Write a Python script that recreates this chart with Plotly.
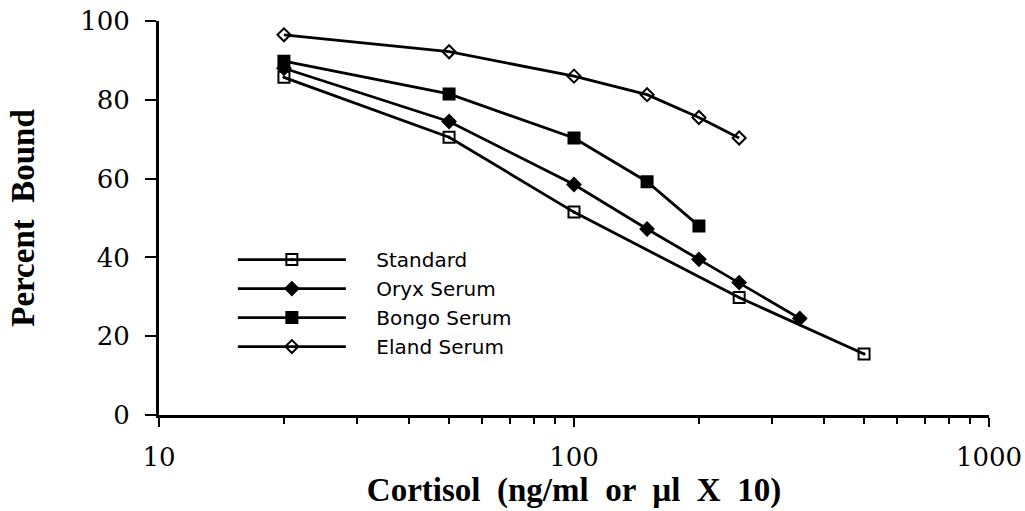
import plotly.graph_objects as go

std_x = [20, 50, 100, 250, 500]
std_y = [85.7, 70.5, 51.5, 29.8, 15.5]
oryx_x = [20, 50, 100, 150, 200, 250, 350]
oryx_y = [88, 74.5, 58.5, 47.2, 39.5, 33.6, 24.5]
bongo_x = [20, 50, 100, 150, 200]
bongo_y = [89.8, 81.5, 70.3, 59.2, 48]
eland_x = [20, 50, 100, 150, 200, 250]
eland_y = [96.5, 92.2, 86, 81.3, 75.5, 70.3]

series = [
    ("Standard", std_x, std_y, "square-open-dot", 11),
    ("Oryx Serum", oryx_x, oryx_y, "diamond", 10),
    ("Bongo Serum", bongo_x, bongo_y, "square", 11),
    ("Eland Serum", eland_x, eland_y, "diamond-open", 10),
]

x_tick_vals = [10, 100, 1000]
x_tick_text = ["10", "100", "1000"]
x_minor_vals = [20, 30, 40, 50, 60, 70, 80, 90, 200, 300, 400, 500, 600, 700, 800, 900]
y_tick_vals = [0, 20, 40, 60, 80, 100]

serif = "DejaVu Serif, serif"
title_font = "Liberation Serif, Times New Roman, serif"
pad = "\u00a0" * 4

fig = go.Figure()
for name, xs, ys, sym, sz in series:
    fig.add_trace(go.Scatter(
        x=xs, y=ys, name=pad + name, mode="lines+markers",
        line=dict(color="black", width=2.8),
        marker=dict(symbol=sym, size=sz, color="black",
                    line=dict(color="black", width=2)),
    ))

fig.update_layout(
    width=1025, height=511,
    margin=dict(l=159, r=36, t=21, b=96, autoexpand=False),
    paper_bgcolor="white", plot_bgcolor="white",
    showlegend=True,
    legend=dict(
        x=0.089, y=0.444, xanchor="left", yanchor="top",
        bgcolor="rgba(0,0,0,0)", itemwidth=108,
        font=dict(family="DejaVu Sans, sans-serif", size=20, color="black"),
        tracegroupgap=0,
    ),
    xaxis=dict(
        type="log", range=[1, 3],
        tickmode="array", tickvals=x_tick_vals, ticktext=x_tick_text,
        ticks="outside", ticklen=9, tickwidth=2, tickcolor="black",
        ticklabelstandoff=8,
        minor=dict(tickmode="array", tickvals=x_minor_vals, ticks="outside",
                   ticklen=6, tickwidth=2, tickcolor="black", showgrid=False),
        showline=True, linecolor="black", linewidth=2.8,
        showgrid=False, zeroline=False,
        tickfont=dict(family=serif, size=26, color="black"),
        title=dict(text="<b>Cortisol  (ng/ml  or  µl  X  10)</b>",
                   font=dict(family=title_font, size=33, color="black"),
                   standoff=4),
    ),
    yaxis=dict(
        range=[0, 100],
        tickmode="array", tickvals=y_tick_vals,
        ticks="outside", ticklen=11, tickwidth=2, tickcolor="black",
        ticklabelstandoff=10,
        showline=True, linecolor="black", linewidth=2.8,
        showgrid=False, zeroline=False,
        tickfont=dict(family=serif, size=26, color="black"),
        title=dict(text="<b>Percent  Bound</b>",
                   font=dict(family=title_font, size=33, color="black"),
                   standoff=36),
    ),
)

fig.write_html("out.html")
